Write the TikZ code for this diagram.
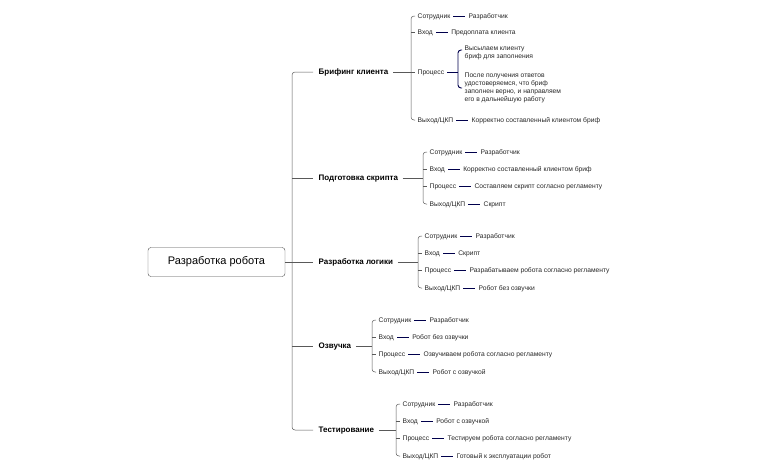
\documentclass[tikz,border=0pt]{standalone}
\usepackage{fontspec}
\setmainfont{Liberation Sans}
\begin{document}
\begin{tikzpicture}[x=1pt,y=-1pt,
  sm/.style={font=\fontsize{6.7}{8}\selectfont,inner sep=1.5pt,anchor=west,text=black!85,text height=4.6pt,text depth=0pt},
  sec/.style={font=\fontsize{8}{9}\selectfont\bfseries,inner sep=1.5pt,anchor=west,text height=5.6pt,text depth=0pt},
  kv/.style={draw=blue!30!black,line width=0.9pt},
  br/.style={draw=black!65,line width=0.5pt,rounded corners=3pt},
  tk/.style={draw=black!65,line width=0.5pt}]
\useasboundingbox (0,0) rectangle (763,472);
\node[draw=black!70,rounded corners=3pt,minimum width=137,minimum height=29,font=\fontsize{11}{13}\selectfont] (root) at (216.5,262) {Разработка робота};
\draw[br] (root.east) -- (292,262);
\draw[br] (313,72) -- (292,72) -- (292,430) -- (313,430);
\foreach \y in {178,262,346}{\draw[tk] (292,\y) -- (313,\y);}
\node[sec] (s1) at (317,72) {Брифинг клиента};
\node[sec] (s2) at (317,178) {Подготовка скрипта};
\node[sec] (s3) at (317,262) {Разработка логики};
\node[sec] (s4) at (317,346) {Озвучка};
\node[sec] (s5) at (317,430) {Тестирование};
\newcommand\kvpair[5]{%
  \node[sm] (#1k) at (#2,#3) {#4};
  \node[sm] (#1v) at ([xshift=15pt]#1k.east) {#5};
  \draw[kv] ([xshift=1.5pt]#1k.east) -- ([xshift=-1.5pt]#1v.west);}
% section 1
\draw[tk] (s1.east) ++(3,0) -- (411,72);
\draw[br] (415,16) -- (411,16) -- (411,120) -- (415,120);
\draw[tk] (411,32) -- (415,32); \draw[tk] (411,72) -- (415,72);
\kvpair{a1}{416}{16}{Сотрудник}{Разработчик}
\kvpair{a2}{416}{32}{Вход}{Предоплата клиента}
\node[sm] (a3k) at (416,72) {Процесс};
\draw[kv,line width=0.9pt,rounded corners=3pt] (462,50) -- (458,50) -- (458,88) -- (462,88);
\draw[kv,line width=0.9pt] ([xshift=1.5pt]a3k.east) -- (458,72);
\node[sm,align=left,anchor=north west,text height=,text depth=] (p1) at (463,44) {Высылаем клиенту\\бриф для заполнения};
\node[sm,align=left,anchor=north west,text height=,text depth=] (p2) at (463,71.5) {После получения ответов\\удостоверяемся, что бриф\\заполнен верно, и направляем\\его в дальнейшую работу};
\kvpair{a4}{416}{120}{Выход/ЦКП}{Корректно составленный клиентом бриф}
% section 2
\draw[tk] (s2.east) ++(3,0) -- (423,178);
\draw[br] (427,152) -- (423,152) -- (423,204) -- (427,204);
\draw[tk] (423,169) -- (427,169); \draw[tk] (423,186) -- (427,186);
\kvpair{b1}{428}{152}{Сотрудник}{Разработчик}
\kvpair{b2}{428}{169}{Вход}{Корректно составленный клиентом бриф}
\kvpair{b3}{428}{186}{Процесс}{Составляем скрипт согласно регламенту}
\kvpair{b4}{428}{204}{Выход/ЦКП}{Скрипт}
% section 3
\draw[tk] (s3.east) ++(3,0) -- (418,262);
\draw[br] (422,236) -- (418,236) -- (418,288) -- (422,288);
\draw[tk] (418,253) -- (422,253); \draw[tk] (418,270) -- (422,270);
\kvpair{c1}{423}{236}{Сотрудник}{Разработчик}
\kvpair{c2}{423}{253}{Вход}{Скрипт}
\kvpair{c3}{423}{270}{Процесс}{Разрабатываем робота согласно регламенту}
\kvpair{c4}{423}{288}{Выход/ЦКП}{Робот без озвучки}
% section 4
\draw[tk] (s4.east) ++(3,0) -- (372,346);
\draw[br] (376,320) -- (372,320) -- (372,372) -- (376,372);
\draw[tk] (372,337) -- (376,337); \draw[tk] (372,354) -- (376,354);
\kvpair{d1}{377}{320}{Сотрудник}{Разработчик}
\kvpair{d2}{377}{337}{Вход}{Робот без озвучки}
\kvpair{d3}{377}{354}{Процесс}{Озвучиваем робота согласно регламенту}
\kvpair{d4}{377}{372}{Выход/ЦКП}{Робот с озвучкой}
% section 5
\draw[tk] (s5.east) ++(3,0) -- (396,430);
\draw[br] (400,404) -- (396,404) -- (396,456) -- (400,456);
\draw[tk] (396,421) -- (400,421); \draw[tk] (396,438) -- (400,438);
\kvpair{e1}{401}{404}{Сотрудник}{Разработчик}
\kvpair{e2}{401}{421}{Вход}{Робот с озвучкой}
\kvpair{e3}{401}{438}{Процесс}{Тестируем робота согласно регламенту}
\kvpair{e4}{401}{456}{Выход/ЦКП}{Готовый к эксплуатации робот}
\end{tikzpicture}
\end{document}
